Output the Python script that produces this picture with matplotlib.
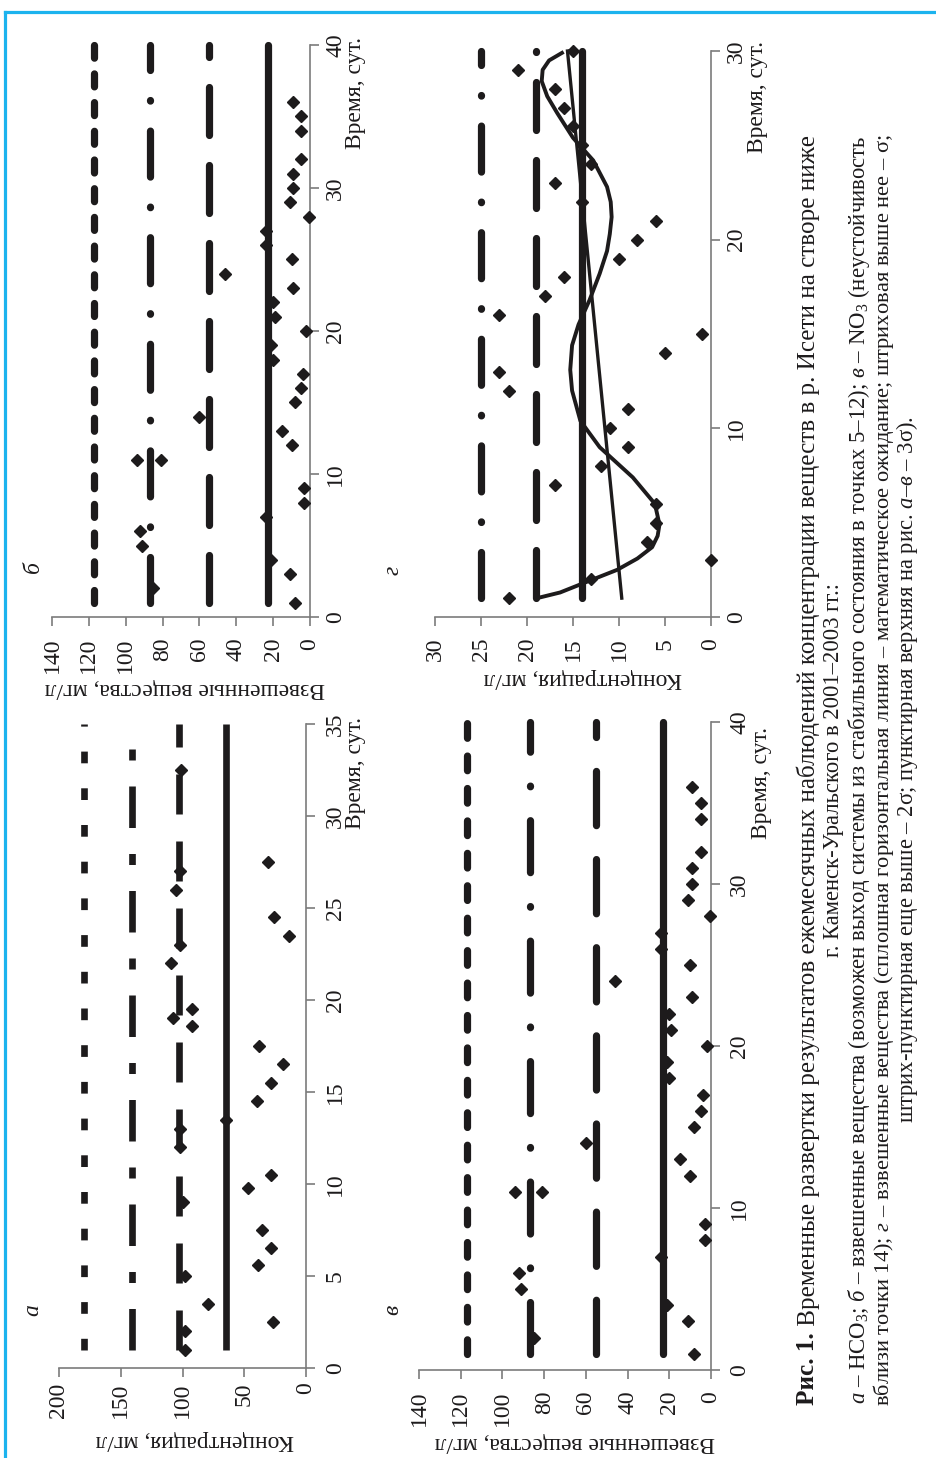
import matplotlib
matplotlib.use("Agg")
import matplotlib.pyplot as plt
from matplotlib.lines import Line2D

plt.rcParams['font.family'] = ['Liberation Serif', 'DejaVu Serif']
plt.rcParams['mathtext.fontset'] = 'custom'
plt.rcParams['mathtext.rm'] = 'Liberation Serif'
plt.rcParams['mathtext.it'] = 'Liberation Serif:italic'
plt.rcParams['lines.scale_dashes'] = False

# ---------------- data ----------------
# suspended solids (panels б and в)
ss_time = [1, 2, 3, 4, 5, 6, 7, 8, 9, 11, 11, 12, 13, 14, 15, 16, 17, 18, 19, 20,
           21, 22, 23, 24, 25, 26, 27, 28, 29, 30, 31, 32, 34, 35, 36]
ss_conc = [8, 85, 11, 21, 91, 92, 24, 3, 3, 94, 81, 10, 15, 60, 8, 5, 4, 20, 21, 2,
           19, 20, 9, 46, 10, 24, 24, 0.5, 11, 9, 9, 5, 5, 5, 9]
ss_levels = [23, 55, 87, 117]          # mean, σ, 2σ, 3σ
ss_span = [1, 40]

# HCO3 (panel а)
a_time = [1, 2, 2.5, 3.5, 5, 5.6, 6.5, 7.5, 9, 9.8, 10.5, 12, 13, 13.5, 14.5, 15.5,
          16.5, 17.5, 18.6, 19, 19.5, 22, 23, 23.5, 24.5, 26, 27, 27.5, 32.5]
a_conc = [98, 98, 27, 79, 98, 39, 28, 36, 100, 47, 28, 102, 102, 65, 40, 28,
          19, 38, 92, 108, 92, 109, 102, 14, 26, 105, 102, 31, 101]
a_levels = [65, 103, 141, 180]
a_span = [1, 35]

# suspended solids (panel г)
g_time = list(range(1, 31))
g_conc = [22, 13, 0, 7, 6, 6, 17, 12, 9, 11, 9, 22, 23, 5, 1, 23, 18, 16, 10, 8,
          6, 14, 17, 13, 14, 15, 16, 17, 21, 15]
g_levels = [14, 19, 25]
g_span = [1, 30]
g_trend_t = [1, 30]
g_trend_c = [9.7, 15.6]
g_fit_t = [1.0, 1.3, 2.0, 2.5, 3.1, 3.7, 4.3, 4.9, 6.0, 7.4, 9.0, 10.4, 12.0, 13.1,
           14.4, 15.5, 16.8, 18.2, 19.4, 20.3, 21.2, 22.0, 22.8, 24.2, 25.4, 26.7,
           27.6, 28.4, 29.0, 29.5, 29.9]
g_fit_c = [18.9, 16.4, 12.8, 10.2, 8.0, 6.4, 5.8, 5.6, 6.1, 8.5, 12.1, 14.2, 15.1, 15.3,
           15.1, 14.4, 13.2, 12.1, 11.3, 11.0, 10.8, 10.9, 11.3, 12.8, 15.0, 16.7,
           17.8, 18.4, 18.3, 17.6, 16.2]

# ---------------- figure ----------------
W, H = 936, 1458
fig = plt.figure(figsize=(W / 100, H / 100), dpi=100)
INK = '#1d1b1c'
AXC = '#7c7c7c'
FS = 17
PT = 0.72  # points per pixel


def fxy(x, y):
    return x / W, 1 - y / H


def make_axes(x0, y0, x1, y1):
    ax = fig.add_axes([x0 / W, 1 - y1 / H, (x1 - x0) / W, (y1 - y0) / H])
    ax.patch.set_visible(False)
    for s in ['top', 'left']:
        ax.spines[s].set_visible(False)
    for s in ['bottom', 'right']:
        ax.spines[s].set_color(AXC)
        ax.spines[s].set_linewidth(1.2)
    ax.yaxis.tick_right()
    return ax


def setup(ax, cmax, cstep, tmax, tstep, padc, padt):
    ax.set_xlim(cmax, 0)
    ax.set_ylim(0, tmax)
    ax.set_xticks(list(range(0, cmax + 1, cstep)))
    ax.set_yticks(list(range(0, tmax + 1, tstep)))
    ax.tick_params(axis='x', direction='out', length=6.5, width=1.2, color=AXC,
                   labelrotation=90, labelsize=FS, pad=padc, labelcolor=INK)
    ax.tick_params(axis='y', direction='out', length=6.5, width=1.2, color=AXC,
                   labelrotation=90, labelsize=FS, pad=padt, labelcolor=INK)
    for tk in ax.yaxis.get_major_ticks():
        tk.label2.set_va('center')


def level(ax, c, span, dashes, cap, lw):
    kw = dict(color=INK, lw=lw, solid_capstyle=cap, dash_capstyle=cap, clip_on=False, zorder=2)
    if dashes is None:
        ax.plot([c, c], span, **kw)
    else:
        ax.plot([c, c], span, dashes=dashes, **kw)


def pts(vals, k=1.0):
    return [v * PT * k for v in vals]


def diamonds(ax, t, c):
    ax.plot(c, t, linestyle='none', marker='D', markersize=6.6, color=INK,
            clip_on=False, zorder=4)


# round-cap patterns (pixels)
R3 = [13, 15.7]
R2 = [46, 30, 0.6, 30]
R1 = [48, 30]
# butt-cap patterns for panel а (pixels)
B3 = [11.7, 25]
B2 = [41.5, 26, 11, 26]
B1 = [40, 27]

# ---- panel б (top-left)
ax_b = make_axes(52, 45, 310, 617)
setup(ax_b, 140, 20, 40, 10, 8.5, 4.5)
level(ax_b, ss_levels[0], ss_span, None, 'round', 5.2)
level(ax_b, ss_levels[1], ss_span, pts(R1), 'round', 5.2)
level(ax_b, ss_levels[2], ss_span, pts(R2), 'round', 5.2)
level(ax_b, ss_levels[3], ss_span, pts(R3), 'round', 5.2)
diamonds(ax_b, ss_time, ss_conc)

# ---- panel в (bottom-right)
ax_v = make_axes(419, 722, 711, 1370)
setup(ax_v, 140, 20, 40, 10, 8.5, 6.5)
k = 1.13
level(ax_v, ss_levels[0], ss_span, None, 'round', 5.2)
level(ax_v, ss_levels[1], ss_span, pts(R1, k), 'round', 5.2)
level(ax_v, ss_levels[2], ss_span, pts(R2, k), 'round', 5.2)
level(ax_v, ss_levels[3], ss_span, pts(R3, k), 'round', 5.2)
diamonds(ax_v, ss_time, ss_conc)

# ---- panel а (bottom-left)
ax_a = make_axes(59, 724, 306, 1368)
setup(ax_a, 200, 50, 35, 5, 4.0, 7.0)
level(ax_a, a_levels[0], a_span, None, 'butt', 4.8)
level(ax_a, a_levels[1], a_span, pts(B1), 'butt', 4.8)
level(ax_a, a_levels[2], a_span, pts(B2), 'butt', 4.8)
level(ax_a, a_levels[3], a_span, pts(B3), 'butt', 4.8)
diamonds(ax_a, a_time, a_conc)

# ---- panel г (top-right)
ax_g = make_axes(435, 51, 711, 617)
setup(ax_g, 30, 5, 30, 10, 8.5, 4.5)
level(ax_g, g_levels[0], g_span, None, 'round', 5.2)
level(ax_g, g_levels[1], g_span, pts(R1), 'round', 5.2)
level(ax_g, g_levels[2], g_span, pts(R2), 'round', 5.2)
ax_g.plot(g_trend_c, g_trend_t, color=INK, lw=2.4, zorder=3, clip_on=False)
ax_g.plot(g_fit_c, g_fit_t, color=INK, lw=2.8, zorder=3, clip_on=False,
          solid_joinstyle='round')
diamonds(ax_g, g_time, g_conc)

# ---------------- texts ----------------
def ftext(x, y, s, **kw):
    X, Y = fxy(x, y)
    return fig.text(X, Y, s, color=INK, **kw)

for (x, y) in [(356, 93), (758, 97), (356, 773), (762, 783)]:
    ftext(x, y, 'Время, сут.', rotation=90, ha='center', va='center', fontsize=FS)

ftext(185, 689, 'Взвешенные вещества, мг/л', rotation=180, ha='center', va='center', fontsize=FS)
ftext(583, 678, 'Концентрация, мг/л', rotation=180, ha='center', va='center', fontsize=FS)
ftext(195, 1440, 'Концентрация, мг/л', rotation=180, ha='center', va='center', fontsize=FS)
ftext(575, 1442, 'Взвешенные вещества, мг/л', rotation=180, ha='center', va='center', fontsize=FS)

for (x, y, s) in [(33, 567, 'б'), (393, 570, 'г'), (33, 1310, 'а'), (393, 1310, 'в')]:
    ftext(x, y, s, rotation=90, ha='center', va='center', fontsize=FS, fontstyle='italic')

# ---------------- caption ----------------
fig.canvas.draw()
r = fig.canvas.get_renderer()

CAP_LEN = 1268
CAP_CY = 770
cap_x = [808, 834, 859, 884, 907]

line1a = 'Рис. 1.'
line1b = ' Временные развертки результатов ежемесячных наблюдений концентрации веществ в р. Исети на створе ниже'
line2 = 'г. Каменск-Уральского в 2001–2003 гг.:'
line3 = (r'$\mathit{а}$ – HCO$_3$; $\mathit{б}$ – взвешенные вещества (возможен выход системы '
         r'из стабильного состояния в точках 5–12); $\mathit{в}$ – NO$_3$ (неустойчивость')
line4 = (r'вблизи точки 14); $\mathit{г}$ – взвешенные вещества (сплошная горизонтальная линия – '
         r'математическое ожидание; штриховая выше нее – σ;')
line5 = r'штрих-пунктирная еще выше – 2σ; пунктирная верхняя на рис. $\mathit{а}$–$\mathit{в}$ – 3σ).'


def length(t):
    return t.get_window_extent(renderer=r).height


def fit(t, target):
    for _ in range(2):
        t.set_fontsize(t.get_fontsize() * target / length(t))


t3 = ftext(cap_x[2], CAP_CY, line3, rotation=90, ha='center', va='center', fontsize=15)
fit(t3, CAP_LEN)
t4 = ftext(cap_x[3], CAP_CY, line4, rotation=90, ha='center', va='center', fontsize=15)
fit(t4, CAP_LEN)
base = 0.5 * (t3.get_fontsize() + t4.get_fontsize())
ftext(cap_x[1], CAP_CY, line2, rotation=90, ha='center', va='center', fontsize=base)
ftext(cap_x[4], CAP_CY, line5, rotation=90, ha='center', va='center', fontsize=base)

t1a = ftext(cap_x[0], CAP_CY, line1a, rotation=90, ha='center', va='bottom',
            fontsize=base, fontweight='bold')
t1b = ftext(cap_x[0], CAP_CY, line1b, rotation=90, ha='center', va='bottom', fontsize=base)
for _ in range(2):
    tot = length(t1a) + length(t1b)
    f = CAP_LEN / tot
    t1a.set_fontsize(t1a.get_fontsize() * f)
    t1b.set_fontsize(t1b.get_fontsize() * f)
la, lb = length(t1a), length(t1b)
y_start = CAP_CY + (la + lb) / 2
t1a.set_position(fxy(cap_x[0], y_start))
t1b.set_position(fxy(cap_x[0], y_start - la))

# ---------------- blue frame ----------------
BLUE = '#1cb3ee'
fig.add_artist(Line2D([5 / W, 5 / W], [0, 1 - 11.5 / H], color=BLUE, lw=2.3))
fig.add_artist(Line2D([5 / W, 1], [1 - 11.5 / H, 1 - 11.5 / H], color=BLUE, lw=2.3))

fig.savefig('out.png', dpi=100)
